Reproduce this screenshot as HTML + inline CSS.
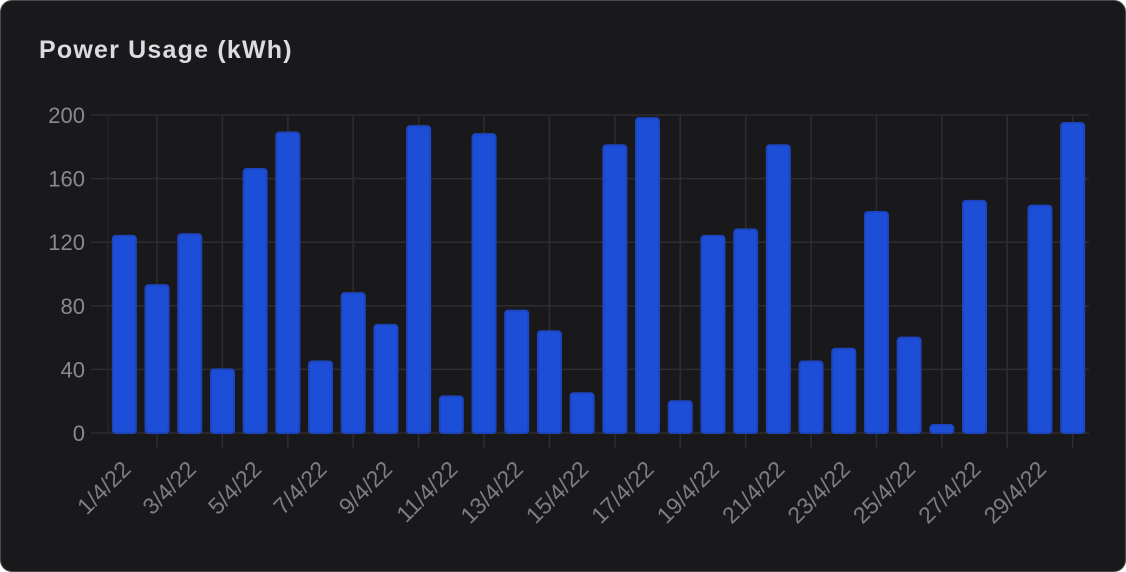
<!DOCTYPE html>
<html><head><meta charset="utf-8"><style>
html,body{margin:0;padding:0;background:#fff;}
#card{position:absolute;left:0;top:0;width:1124px;height:570px;background:#19191b;border:1px solid #4a4a4c;border-radius:12px;overflow:hidden;}
#title{position:absolute;left:38px;top:35px;font:bold 25px "Liberation Sans",sans-serif;color:#dcdcde;letter-spacing:1.2px;}
svg{position:absolute;left:0;top:0;}
</style></head><body>
<div id="card">
<div id="title">Power Usage (kWh)</div>
<svg id="chart" width="1126" height="572"></svg>
</div>
<script>
const categories = ["1/4/22","2/4/22","3/4/22","4/4/22","5/4/22","6/4/22","7/4/22","8/4/22","9/4/22","10/4/22","11/4/22","12/4/22","13/4/22","14/4/22","15/4/22","16/4/22","17/4/22","18/4/22","19/4/22","20/4/22","21/4/22","22/4/22","23/4/22","24/4/22","25/4/22","26/4/22","27/4/22","28/4/22","29/4/22","30/4/22"];
const values = [124,93,125,40,166,189,45,88,68,193,23,188,77,64,25,181,198,20,124,128,181,45,53,139,60,5,146,0,143,195];
const yTicks = [0,40,80,120,160,200];

const NS="http://www.w3.org/2000/svg";
const svg=document.getElementById('chart');
const L=107,R=1088,T=114,B=432,yMax=200;
const bw=(R-L)/categories.length;
const x=i=>L+bw*(i+0.5);
const y=v=>B-(v/yMax)*(B-T);
function mk(tag,attrs){const e=document.createElementNS(NS,tag);for(const k in attrs)e.setAttribute(k,attrs[k]);svg.appendChild(e);return e;}

yTicks.forEach(t=>{
  const l=mk('line',{x1:90,x2:R,y1:y(t),y2:y(t),stroke:'#2e2e31','stroke-width':1.5});
  
  
  const tx=mk('text',{x:84,y:y(t)+8,'text-anchor':'end',fill:'#8a8a8c','font-size':22,'font-family':'Liberation Sans, sans-serif'});
  tx.textContent=t;
  
  
});
const el=mk('line',{x1:L,x2:L,y1:T,y2:B,stroke:'#242426','stroke-width':1.5});


categories.forEach((c,i)=>{
  if(i%2!==1) return;
  const l=mk('line',{x1:x(i),x2:x(i),y1:T,y2:B+15,stroke:'#2e2e31','stroke-width':1.5});
  
  
});
values.forEach((v,i)=>{
  const h=B-y(v);
  if(h<=0) return;
  const r=mk('rect',{x:x(i)-11.5,y:y(v),width:23,height:h,rx:3,fill:'#1d4ed8',stroke:'#1e45c0','stroke-width':2});
  
  
});
categories.forEach((c,i)=>{
  if(i%2!==0) return;
  const cx=x(i)+2, cy=464;
  const t=mk('text',{x:cx,y:cy,'text-anchor':'end',fill:'#7e7e80','font-size':23,'font-family':'Liberation Sans, sans-serif',transform:`rotate(-45 ${cx} ${cy})`,dy:8});
  t.textContent=c;
  
  
});
</script>
</body></html>
